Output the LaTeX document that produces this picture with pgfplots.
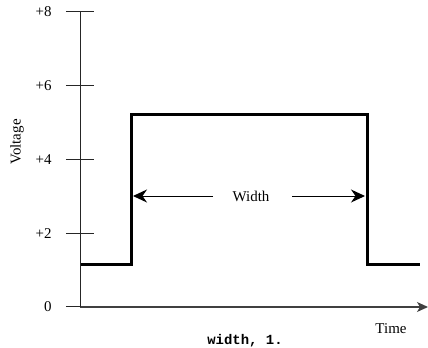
\documentclass[border=0pt]{standalone}
\usepackage{fontspec}
\setmainfont{Liberation Serif}
\newfontfamily\capfont{Liberation Mono}
\usepackage{pgfplots}
\pgfplotsset{compat=1.18}
\usetikzlibrary{arrows.meta}

\begin{document}
\begin{tikzpicture}[x=1bp,y=1bp]
\path[use as bounding box] (0,0) rectangle (428,348);
\begin{axis}[
    at={(80bp,41bp)}, anchor=south west,
    scale only axis,
    width=348bp, height=295bp,
    xmin=80, xmax=428, ymin=0, ymax=8,
    axis x line=bottom, axis y line=left,
    x axis line style={draw=black!75, line width=1.3bp, -{Stealth[length=11bp,width=10bp,inset=3bp]}},
    y axis line style={draw=black!85, line width=0.9bp, -},
    xtick=\empty,
    ytick={0,2,4,6,8},
    yticklabels={0,+2,+4,+6,+8},
    tick align=center,
    major tick length=28bp,
    ytick style={draw=black!85, line width=1bp},
    yticklabel style={font=\fontsize{15}{15}\selectfont, anchor=east, xshift=-11bp},
    clip=false,
]
\addplot[black, line width=3bp, line join=miter] coordinates {
    (81,1.14) (131,1.14) (131,5.21) (367,5.21) (367,1.14) (420,1.14)
};
\draw[line width=1bp, -{Stealth[length=14bp,width=13bp,inset=4.5bp]}] (axis cs:213,3.01) -- (axis cs:133,3.01);
\draw[line width=1bp, -{Stealth[length=14bp,width=13bp,inset=4.5bp]}] (axis cs:292,3.01) -- (axis cs:365,3.01);
\node[font=\fontsize{15}{15}\selectfont] at (axis cs:251,3.01) {Width};
\end{axis}
\node[rotate=90, font=\fontsize{15}{15}\selectfont] at (17,206) {Voltage};
\node[font=\fontsize{15}{15}\selectfont] at (391,19) {Time};
\node[font=\capfont\bfseries\fontsize{14}{14}\selectfont] at (245,7.5) {width, 1.};
\end{tikzpicture}
\end{document}
